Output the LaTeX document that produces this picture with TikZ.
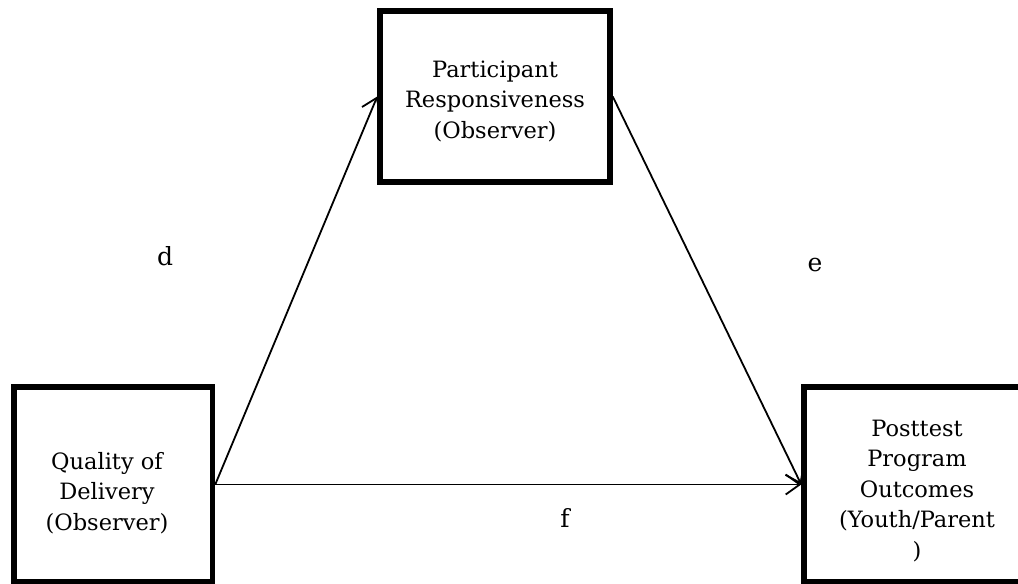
\documentclass[tikz,border=0pt]{standalone}
\usepackage{fontspec}
\setmainfont{DejaVu Serif}
\usetikzlibrary{arrows.meta}
\begin{document}
\begin{tikzpicture}[x=1pt,y=-1pt,
  box/.style={draw=black,line width=5.5pt,rectangle,inner sep=0pt},
  boxtext/.style={align=center,anchor=base,font=\fontsize{22.5}{30.5}\selectfont},
  lbl/.style={anchor=base,font=\fontsize{25}{30}\selectfont},
  path/.style={line width=1.8pt,-{Straight Barb[length=14pt,width=20pt,line width=1.8pt]}}]
\useasboundingbox (0,0) rectangle (1018,584);
\clip (0,0) rectangle (1018,584);
% the three variables
\node[box,minimum width=230pt,minimum height=171pt] (t) at (495,96.5) {};
\node[box,minimum width=198.5pt,minimum height=195pt] (q) at (113.25,484.5) {};
\node[box,minimum width=218pt,minimum height=195pt] (p) at (913,484.5) {};
% baselines are those of the last line of each text
\node[boxtext] (tt) at (495,138) {Participant\\Responsiveness\\(Observer)};
\node[boxtext] (qt) at (107,530) {Quality of\\Delivery\\(Observer)};
\node[boxtext] (pt) at (917,558) {Posttest\\Program\\Outcomes\\(Youth/Parent\\)};
% paths
\draw[path] (q.east) -- (t.west);
\draw[path] (t.east) -- (p.west);
\draw[path] (q.east) -- (p.west);
% path labels
\node[lbl] (d) at (165,265) {d};
\node[lbl] (e) at (815,271) {e};
\node[lbl] (f) at (565,527) {f};
\end{tikzpicture}
\end{document}
